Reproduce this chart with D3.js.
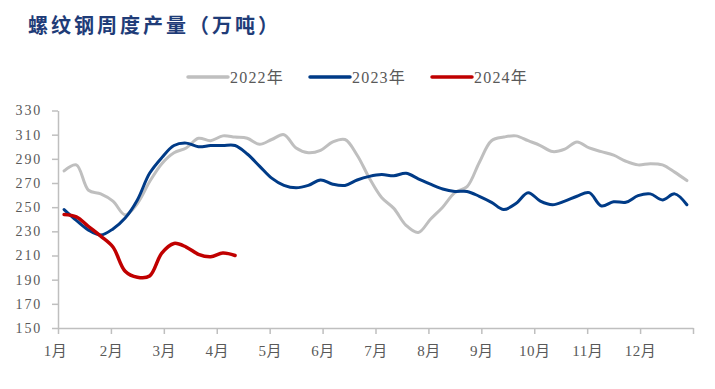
<!DOCTYPE html>
<html lang="zh">
<head>
<meta charset="UTF-8">
<title>螺纹钢周度产量</title>
<script src="https://d3js.org/d3.v7.min.js"></script>
<style>
  body { margin: 0; background: #fff; }
  .axis path, .axis line { stroke: #BFBFBF; stroke-width: 1.5px; }
  .axis text { font-family: "Liberation Serif", "Noto Sans CJK SC", serif; fill: #595959; }
  .y.axis text { font-size: 14px; letter-spacing: 1.8px; }
  .x.axis text { font-size: 15px; letter-spacing: 0.5px; }
  .legend text { font-family: "Liberation Serif", "Noto Sans CJK SC", serif; font-size: 16px; letter-spacing: 1.2px; fill: #595959; }
</style>
</head>
<body>
<svg width="715" height="389"></svg>
<script>
// weekly output, weeks 1..52
const weeks = d3.range(1, 53);
const y2022 = [280, 285, 264, 261, 255, 243.5, 253, 271, 286, 295, 299, 307, 305, 309, 308, 307,
  302, 306, 310, 299, 295, 297, 304, 306, 293, 274, 258, 249, 235, 229, 240, 250,
  262, 267, 287, 305, 308, 309, 305, 301, 296, 298, 304, 299, 296, 293, 288, 285,
  286, 285, 279, 272];
const y2023 = [248, 239, 231, 227, 232, 241, 256, 278, 291, 301, 303, 300, 301, 301, 301, 294,
  284, 274, 268, 266, 268, 272.5, 269, 268, 272.5, 275.5, 277, 276, 278, 273.5, 269, 265,
  263, 263, 259, 254, 248, 253, 262, 255, 252, 255, 259, 262, 251, 254.5,
  254, 259.5, 261, 256, 261, 252];
const y2024 = [244, 242, 234, 226, 217, 197, 192, 193, 212, 220, 217, 211, 209, 212, 210];
const monthLabels = ["1月", "2月", "3月", "4月", "5月", "6月", "7月", "8月", "9月", "10月", "11月", "12月"];
const yTicks = [150, 170, 190, 210, 230, 250, 270, 290, 310, 330];

const series = [
  { name: "2022年", values: y2022, color: "#BFBFBF" },
  { name: "2023年", values: y2023, color: "#003B87" },
  { name: "2024年", values: y2024, color: "#C00000" }
];

const svg = d3.select("svg");

const x = d3.scaleLinear().domain([0, 52]).range([58, 693]);
const y = d3.scaleLinear().domain([150, 330]).range([328, 110.5]);

// title
svg.append("text")
  .attr("x", 28).attr("y", 33)
  .attr("font-family", "'Noto Sans CJK SC', sans-serif")
  .attr("font-weight", "bold")
  .attr("font-size", 20)
  .attr("letter-spacing", 3)
  .attr("fill", "#1F3C78")
  .text("螺纹钢周度产量（万吨）");

// axes
svg.append("g")
  .attr("class", "y axis")
  .attr("transform", "translate(58,0)")
  .call(d3.axisLeft(y).tickValues(yTicks).tickSize(6).tickSizeOuter(0).tickPadding(10));

const monthPos = d3.range(0, 13).map(m => m * 52 / 12);
const xAxis = svg.append("g")
  .attr("class", "x axis")
  .attr("transform", "translate(0,328)")
  .call(d3.axisBottom(x).tickValues(monthPos).tickSize(6).tickSizeOuter(0).tickPadding(11)
    .tickFormat((d, i) => monthLabels[i] || ""));
xAxis.selectAll(".tick text").attr("dx", (d, i) => i === 0 ? -3 : 0);

// lines
const line = d3.line()
  .x((d, i) => x(weeks[i] - 0.5))
  .y(d => y(d))
  .curve(d3.curveCatmullRom.alpha(0.5));

svg.append("g").selectAll("path")
  .data(series)
  .enter().append("path")
  .attr("d", s => line(s.values))
  .attr("fill", "none")
  .attr("stroke", s => s.color)
  .attr("stroke-width", s => s.name === "2024年" ? 3.5 : 3)
  .attr("stroke-linecap", "round")
  .attr("stroke-linejoin", "round");

// legend
const legendX = [188, 310, 432];
const legend = svg.append("g").attr("class", "legend");
series.forEach((s, i) => {
  legend.append("line")
    .attr("x1", legendX[i]).attr("x2", legendX[i] + 40)
    .attr("y1", 77).attr("y2", 77)
    .attr("stroke", s.color).attr("stroke-width", 3.5)
    .attr("stroke-linecap", "round");
  legend.append("text")
    .attr("x", legendX[i] + 42).attr("y", 83)
    .text(s.name);
});
</script>
</body>
</html>
